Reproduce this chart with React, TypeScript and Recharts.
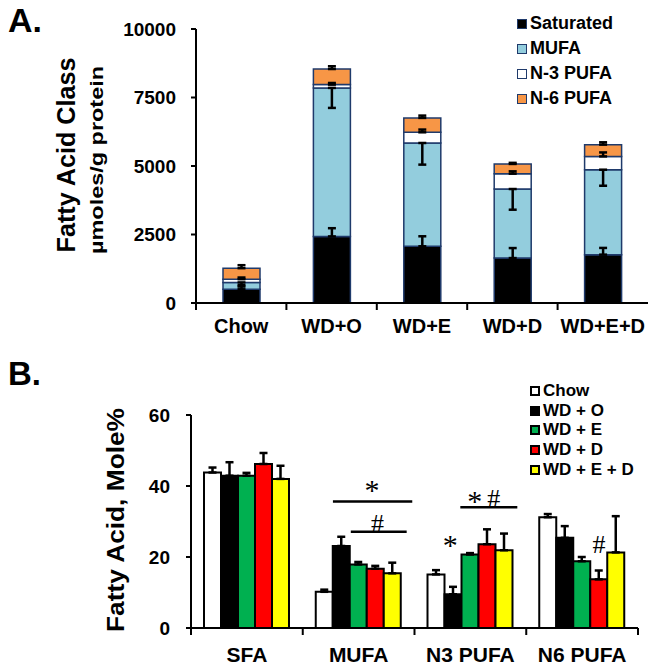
import React from 'react'
import { BarChart, Bar, XAxis, YAxis, ErrorBar, Legend, Label, ReferenceLine, ReferenceDot } from 'recharts'

// Panel A: fatty acid class, umoles/g protein (stacked)
const groupsA = ['Chow', 'WD+O', 'WD+E', 'WD+D', 'WD+E+D']
const saturated = [500, 2430, 2070, 1640, 1765]
const mufa = [250, 5420, 3770, 2520, 3100]
const n3 = [120, 120, 390, 560, 485]
const n6 = [400, 570, 525, 355, 430]
const saturatedErr = [150, 300, 365, 365, 245]
const mufaErr = [150, 730, 790, 755, 585]
const n3Err = [60, 60, 100, 85, 145]
const n6Err = [110, 100, 85, 40, 85]
const ticksA = [0, 2500, 5000, 7500, 10000]

// Panel B: mole %
const classesB = ['SFA', 'MUFA', 'N3 PUFA', 'N6 PUFA']
const chow = [43.8, 10.2, 15.1, 31.2]
const wdO = [42.9, 23.1, 9.5, 25.4]
const wdE = [42.9, 17.9, 20.7, 18.8]
const wdD = [46.2, 16.7, 23.6, 13.7]
const wdED = [42.0, 15.4, 21.9, 21.3]
const chowErr = [1.4, 0.6, 1.2, 0.9]
const wdOErr = [3.8, 2.6, 2.1, 3.3]
const wdEErr = [0.8, 0.7, 0.4, 1.2]
const wdDErr = [3.1, 0.8, 4.2, 2.5]
const wdEDErr = [3.7, 3.0, 4.7, 10.2]
const ticksB = [0, 20, 40, 60]

// significance marks, x in category units (0..4), y in mole %
const sigLines = [
  { from: 1.27, to: 1.98, at: 35.6 },
  { from: 1.43, to: 1.93, at: 27.1 },
  { from: 2.41, to: 2.92, at: 34.0 },
]
const sigMarks = [
  { x: 1.62, y: 39.8, text: '*' },
  { x: 1.67, y: 29.7, text: '#' },
  { x: 2.54, y: 36.6, text: '*' },
  { x: 2.71, y: 36.6, text: '#' },
  { x: 2.32, y: 24.3, text: '*' },
  { x: 3.65, y: 23.6, text: '#' },
]

const rowsA = groupsA.map((g, i) => ({
  group: g,
  saturated: saturated[i],
  mufa: mufa[i],
  n3: n3[i],
  n6: n6[i],
  saturatedErr: saturatedErr[i],
  mufaErr: mufaErr[i],
  n3Err: n3Err[i],
  n6Err: n6Err[i],
}))

const rowsB = classesB.map((c, i) => ({
  cls: c,
  pos: i + 0.5,
  chow: chow[i],
  wdO: wdO[i],
  wdE: wdE[i],
  wdD: wdD[i],
  wdED: wdED[i],
  chowErr: chowErr[i],
  wdOErr: wdOErr[i],
  wdEErr: wdEErr[i],
  wdDErr: wdDErr[i],
  wdEDErr: wdEDErr[i],
}))

const NAVY = '#1F3A6B'
const seriesA = [
  { key: 'saturated', label: 'Saturated', color: '#000000', err: (d: any) => [0, d.saturatedErr] },
  { key: 'mufa', label: 'MUFA', color: '#93CDDD', err: (d: any) => [d.mufaErr, 0] },
  { key: 'n3', label: 'N-3 PUFA', color: '#FFFFFF', err: (d: any) => [0, d.n3Err] },
  { key: 'n6', label: 'N-6 PUFA', color: '#F79646', err: (d: any) => [0, d.n6Err] },
]
const seriesB = [
  { key: 'chow', label: 'Chow', color: '#FFFFFF' },
  { key: 'wdO', label: 'WD + O', color: '#000000' },
  { key: 'wdE', label: 'WD + E', color: '#00B050' },
  { key: 'wdD', label: 'WD + D', color: '#FF0000' },
  { key: 'wdED', label: 'WD + E + D', color: '#FFFF00' },
]

const FONT = 'Arial, "Liberation Sans", sans-serif'
const SERIF = '"Liberation Serif", "Times New Roman", serif'

// x tick: label centred on the category, tick marks on the category boundaries
const makeTick = (band: number, fontSize: number, dy: number, count: number, endTick: boolean) => (props: any) => {
  const { x, y, payload, index } = props
  return (
    <g>
      <line x1={x - band / 2} x2={x - band / 2} y1={y} y2={y + 7} stroke="#000" strokeWidth={2} />
      {endTick && index === count - 1 ? (
        <line x1={x + band / 2} x2={x + band / 2} y1={y} y2={y + 7} stroke="#000" strokeWidth={2} />
      ) : null}
      <text x={x} y={y + dy} textAnchor="middle" fontSize={fontSize} fontWeight="bold" fill="#000">
        {payload.value}
      </text>
    </g>
  )
}

const LegendBox = ({ items, border, borderWidth, fontSize, rowHeight }: any) => (
  <div style={{ fontFamily: FONT }}>
    {items.map((it: any) => (
      <div key={it.key} style={{ display: 'flex', alignItems: 'center', height: rowHeight }}>
        <span
          style={{
            display: 'inline-block',
            width: 10,
            height: 10,
            boxSizing: 'border-box',
            background: it.color,
            border: `${borderWidth}px solid ${border}`,
            marginRight: 3,
          }}
        />
        <span style={{ fontSize, fontWeight: 'bold', color: '#000', whiteSpace: 'nowrap' }}>{it.label}</span>
      </div>
    ))}
  </div>
)

const App = () => {
  return (
    <div style={{ position: 'absolute', left: 0, top: 0, width: 653, height: 667, background: '#fff', fontFamily: FONT }}>
      <div style={{ position: 'absolute', left: 8, top: 3, fontSize: 34, lineHeight: '34px', fontWeight: 'bold' }}>A.</div>
      <div style={{ position: 'absolute', left: 8, top: 357, fontSize: 33, lineHeight: '33px', fontWeight: 'bold' }}>B.</div>

      <div style={{ position: 'absolute', left: 0, top: 0 }}>
        <BarChart width={653} height={345} data={rowsA} margin={{ top: 29, right: 5, bottom: 12, left: 136 }} barSize={37}>
          <XAxis
            dataKey="group"
            height={30}
            tickLine={false}
            tickSize={0}
            tickMargin={0}
            interval={0}
            stroke="#000"
            strokeWidth={2}
            tick={makeTick(452 / 5, 20, 30, groupsA.length, false)}
          />
          <YAxis
            width={60}
            domain={[0, 10000]}
            ticks={ticksA}
            interval={0}
            stroke="#000"
            strokeWidth={2}
            tickSize={5}
            tickMargin={15}
            tick={{ fontSize: 19, fontWeight: 'bold', fill: '#000' }}
          >
            <Label
              content={() => (
                <g>
                  <text
                    transform="translate(75,155) rotate(-90)"
                    textAnchor="middle"
                    fontSize={25}
                    fontWeight="bold"
                    textLength={195}
                    lengthAdjust="spacingAndGlyphs"
                    fill="#000"
                  >
                    Fatty Acid Class
                  </text>
                  <text
                    transform="translate(103,160) rotate(-90)"
                    textAnchor="middle"
                    fontSize={19}
                    fontWeight="bold"
                    textLength={188}
                    lengthAdjust="spacingAndGlyphs"
                    fill="#000"
                  >
                    µmoles/g protein
                  </text>
                </g>
              )}
            />
          </YAxis>
          <Legend
            layout="vertical"
            align="center"
            verticalAlign="middle"
            wrapperStyle={{ left: 517, top: 11, width: 140 }}
            content={() => <LegendBox items={seriesA} border={NAVY} borderWidth={1.5} fontSize={18} rowHeight={25} />}
          />
          {seriesA.map((s) => (
            <Bar key={s.key} dataKey={s.key} stackId="a" fill={s.color} stroke={NAVY} strokeWidth={1.5} isAnimationActive={false}>
              <ErrorBar dataKey={s.err} width={4} strokeWidth={2.5} stroke="#000" direction="y" />
            </Bar>
          ))}
        </BarChart>
      </div>

      <div style={{ position: 'absolute', left: 0, top: 345 }}>
        <BarChart width={653} height={322} data={rowsB} margin={{ top: 70, right: 15, bottom: 9, left: 131 }} barSize={17} barGap={0}>
          <XAxis
            dataKey="cls"
            height={30}
            tickLine={false}
            tickSize={0}
            tickMargin={0}
            interval={0}
            stroke="#000"
            strokeWidth={2}
            tick={makeTick(447 / 4, 21, 34, classesB.length, true)}
          />
          <XAxis xAxisId="pos" dataKey="pos" type="number" domain={[0, 4]} allowDataOverflow hide />
          <YAxis
            width={60}
            domain={[0, 60]}
            ticks={ticksB}
            interval={0}
            stroke="#000"
            strokeWidth={2}
            tickSize={5}
            tickMargin={16}
            tick={{ fontSize: 19, fontWeight: 'bold', fill: '#000' }}
          >
            <Label
              content={() => (
                <text
                  transform="translate(124,175) rotate(-90)"
                  textAnchor="middle"
                  fontSize={24}
                  fontWeight="bold"
                  textLength={224}
                  lengthAdjust="spacingAndGlyphs"
                  fill="#000"
                >
                  Fatty Acid, Mole%
                </text>
              )}
            />
          </YAxis>
          <Legend
            layout="vertical"
            align="center"
            verticalAlign="middle"
            wrapperStyle={{ left: 530, top: 36, width: 125 }}
            content={() => <LegendBox items={seriesB} border="#000" borderWidth={2} fontSize={17} rowHeight={19.7} />}
          />
          {seriesB.map((s) => (
            <Bar key={s.key} dataKey={s.key} fill={s.color} stroke="#000" strokeWidth={2} isAnimationActive={false}>
              <ErrorBar dataKey={(d: any) => [0, d[s.key + 'Err']]} width={4} strokeWidth={2.5} stroke="#000" direction="y" />
            </Bar>
          ))}
          {sigLines.map((l, i) => (
            <ReferenceLine
              key={`l${i}`}
              xAxisId="pos"
              segment={[
                { x: l.from, y: l.at },
                { x: l.to, y: l.at },
              ]}
              stroke="#000"
              strokeWidth={2.5}
              ifOverflow="visible"
            />
          ))}
          {sigMarks.map((m, i) => (
            <ReferenceDot
              key={`m${i}`}
              xAxisId="pos"
              x={m.x}
              y={m.y}
              r={0}
              stroke="none"
              fill="none"
              ifOverflow="visible"
              label={{
                content: (p: any) => {
                  const vb = p.viewBox || {}
                  const cx = (vb.x || 0) + (vb.width || 0) / 2
                  const cy = (vb.y || 0) + (vb.height || 0) / 2
                  const star = m.text === '*'
                  return (
                    <text
                      x={cx}
                      y={cy + (star ? 13 : 9)}
                      textAnchor="middle"
                      fontSize={star ? 30 : 26}
                      fontFamily={SERIF}
                      fill="#000"
                    >
                      {m.text}
                    </text>
                  )
                },
              }}
            />
          ))}
        </BarChart>
      </div>
    </div>
  )
}

export default App
